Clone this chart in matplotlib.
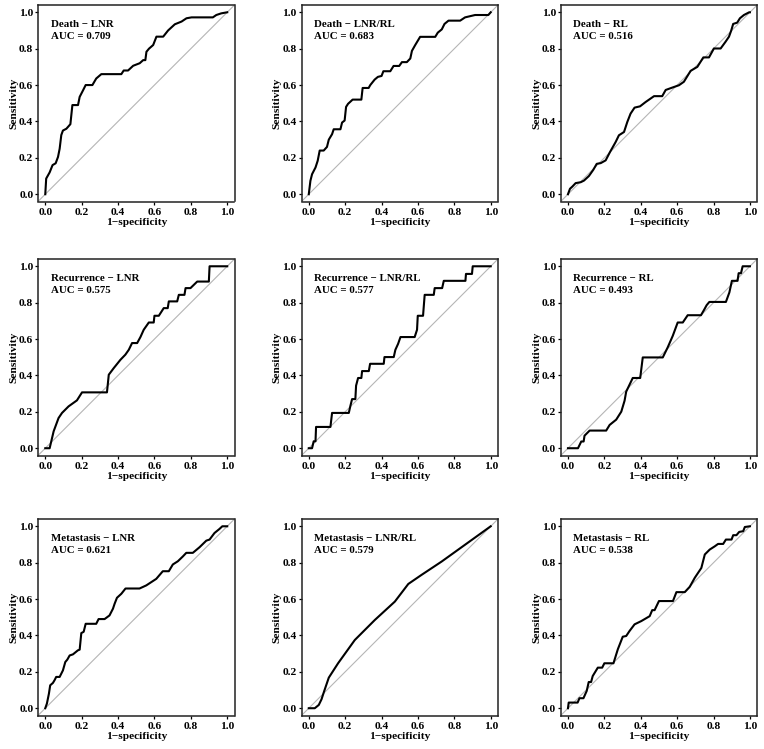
import matplotlib
matplotlib.use("Agg")
import matplotlib.pyplot as plt

plt.rcParams['font.family'] = ['Liberation Serif', 'DejaVu Serif']
plt.rcParams['font.weight'] = 'bold'

# ROC curve points (1-specificity, sensitivity)
death_lnr_fpr = [0, 0.005, 0.024, 0.04, 0.057, 0.07, 0.079, 0.088, 0.097, 0.116, 0.138, 0.149, 0.18, 0.189,
                 0.207, 0.222, 0.259, 0.28, 0.308, 0.418, 0.431, 0.455, 0.483, 0.519, 0.538, 0.55, 0.556, 0.57,
                 0.593, 0.611, 0.648, 0.675, 0.712, 0.749, 0.776, 0.804, 0.921, 0.94, 0.967, 1.0]
death_lnr_tpr = [0, 0.086, 0.12, 0.16, 0.17, 0.205, 0.25, 0.325, 0.35, 0.36, 0.385, 0.49, 0.49, 0.535,
                 0.57, 0.6, 0.6, 0.636, 0.66, 0.66, 0.68, 0.68, 0.706, 0.72, 0.737, 0.737, 0.783, 0.80,
                 0.82, 0.866, 0.866, 0.90, 0.934, 0.949, 0.967, 0.972, 0.972, 0.985, 0.994, 1.0]

death_ratio_fpr = [0, 0.009, 0.018, 0.037, 0.049, 0.06, 0.082, 0.1, 0.11, 0.128, 0.137, 0.174, 0.183, 0.197,
                   0.205, 0.216, 0.241, 0.289, 0.296, 0.329, 0.338, 0.362, 0.38, 0.40, 0.41, 0.448, 0.466,
                   0.497, 0.512, 0.539, 0.558, 0.567, 0.585, 0.612, 0.695, 0.709, 0.731, 0.746, 0.768,
                   0.832, 0.859, 0.914, 0.987, 1.0]
death_ratio_tpr = [0, 0.074, 0.11, 0.147, 0.184, 0.24, 0.24, 0.26, 0.30, 0.33, 0.357, 0.357, 0.394, 0.405,
                   0.48, 0.497, 0.52, 0.52, 0.584, 0.584, 0.60, 0.63, 0.645, 0.65, 0.676, 0.676, 0.705,
                   0.705, 0.726, 0.726, 0.746, 0.788, 0.82, 0.865, 0.865, 0.888, 0.906, 0.936, 0.954,
                   0.954, 0.972, 0.985, 0.985, 1.0]

death_rl_fpr = [0, 0.011, 0.024, 0.042, 0.07, 0.088, 0.115, 0.139, 0.158, 0.18, 0.207, 0.231, 0.262, 0.28,
                0.308, 0.326, 0.344, 0.366, 0.396, 0.427, 0.473, 0.518, 0.537, 0.573, 0.61, 0.637, 0.674,
                0.711, 0.744, 0.775, 0.802, 0.839, 0.866, 0.885, 0.897, 0.908, 0.93, 0.945, 0.967, 0.996, 1.0]
death_rl_tpr = [0, 0.03, 0.042, 0.061, 0.066, 0.075, 0.10, 0.134, 0.167, 0.171, 0.186, 0.232, 0.287, 0.324,
                0.342, 0.397, 0.443, 0.476, 0.483, 0.507, 0.539, 0.539, 0.573, 0.586, 0.599, 0.618, 0.678,
                0.70, 0.752, 0.752, 0.801, 0.801, 0.838, 0.866, 0.899, 0.936, 0.943, 0.967, 0.985, 1.0, 1.0]

rec_lnr_fpr = [0, 0.024, 0.046, 0.073, 0.092, 0.128, 0.174, 0.202, 0.339, 0.349, 0.376, 0.413, 0.44, 0.459,
               0.477, 0.505, 0.523, 0.541, 0.569, 0.596, 0.6, 0.624, 0.651, 0.673, 0.679, 0.725, 0.734,
               0.765, 0.771, 0.798, 0.835, 0.899, 0.903, 1.0]
rec_lnr_tpr = [0, 0, 0.093, 0.166, 0.194, 0.23, 0.263, 0.307, 0.307, 0.404, 0.44, 0.486, 0.514, 0.541,
               0.578, 0.578, 0.611, 0.651, 0.691, 0.691, 0.728, 0.728, 0.77, 0.77, 0.807, 0.807, 0.843,
               0.843, 0.88, 0.88, 0.916, 0.916, 1.0, 1.0]

rec_ratio_fpr = [0, 0.018, 0.027, 0.037, 0.04, 0.119, 0.128, 0.22, 0.229, 0.238, 0.256, 0.26, 0.271, 0.289,
                 0.293, 0.33, 0.337, 0.412, 0.416, 0.467, 0.476, 0.491, 0.504, 0.582, 0.595, 0.599, 0.628,
                 0.637, 0.687, 0.692, 0.733, 0.742, 0.861, 0.864, 0.897, 0.901, 1.0]
rec_ratio_tpr = [0, 0, 0.038, 0.038, 0.117, 0.117, 0.194, 0.194, 0.234, 0.27, 0.27, 0.344, 0.386, 0.386,
                 0.424, 0.424, 0.464, 0.464, 0.501, 0.501, 0.541, 0.574, 0.611, 0.611, 0.651, 0.728, 0.728,
                 0.843, 0.843, 0.88, 0.88, 0.92, 0.92, 0.958, 0.958, 1.0, 1.0]

rec_rl_fpr = [0, 0.055, 0.073, 0.086, 0.091, 0.119, 0.21, 0.229, 0.265, 0.293, 0.311, 0.32, 0.356, 0.397,
              0.411, 0.521, 0.548, 0.576, 0.603, 0.631, 0.658, 0.731, 0.75, 0.762, 0.777, 0.868, 0.887,
              0.901, 0.932, 0.938, 0.951, 0.96, 1.0]
rec_rl_tpr = [0, 0, 0.037, 0.037, 0.069, 0.097, 0.097, 0.128, 0.157, 0.201, 0.261, 0.311, 0.386, 0.386,
              0.499, 0.499, 0.554, 0.618, 0.691, 0.691, 0.731, 0.731, 0.764, 0.786, 0.804, 0.804, 0.856,
              0.92, 0.92, 0.962, 0.962, 1.0, 1.0]

met_lnr_fpr = [0, 0.009, 0.02, 0.027, 0.042, 0.051, 0.06, 0.079, 0.097, 0.11, 0.121, 0.134, 0.152, 0.179,
               0.189, 0.198, 0.211, 0.222, 0.28, 0.293, 0.326, 0.353, 0.372, 0.381, 0.394, 0.418, 0.441,
               0.518, 0.555, 0.61, 0.646, 0.679, 0.701, 0.729, 0.756, 0.775, 0.811, 0.848, 0.885, 0.903,
               0.93, 0.957, 0.973, 1.0]
met_lnr_tpr = [0, 0.026, 0.08, 0.126, 0.139, 0.154, 0.172, 0.172, 0.208, 0.254, 0.267, 0.29, 0.296, 0.318,
               0.322, 0.413, 0.42, 0.464, 0.464, 0.49, 0.49, 0.51, 0.547, 0.574, 0.607, 0.629, 0.658,
               0.658, 0.675, 0.711, 0.753, 0.753, 0.79, 0.808, 0.834, 0.854, 0.854, 0.885, 0.921, 0.927,
               0.963, 0.985, 1.0, 1.0]

met_ratio_fpr = [0, 0.033, 0.055, 0.07, 0.084, 0.11, 0.161, 0.253, 0.363, 0.473, 0.547, 0.62, 0.73, 0.84, 1.0]
met_ratio_tpr = [0, 0, 0.018, 0.049, 0.092, 0.168, 0.247, 0.375, 0.485, 0.586, 0.683, 0.733, 0.806, 0.885, 1.0]

met_rl_fpr = [0, 0.004, 0.053, 0.063, 0.085, 0.103, 0.114, 0.127, 0.136, 0.164, 0.188, 0.2, 0.25, 0.274,
              0.301, 0.32, 0.338, 0.366, 0.403, 0.449, 0.463, 0.476, 0.5, 0.577, 0.596, 0.642, 0.669,
              0.697, 0.715, 0.733, 0.752, 0.779, 0.807, 0.825, 0.853, 0.868, 0.899, 0.908, 0.926, 0.941,
              0.963, 0.972, 1.0]
met_rl_tpr = [0, 0.031, 0.031, 0.055, 0.055, 0.095, 0.144, 0.144, 0.177, 0.223, 0.223, 0.247, 0.247, 0.324,
              0.393, 0.397, 0.424, 0.461, 0.479, 0.506, 0.539, 0.539, 0.589, 0.589, 0.638, 0.638, 0.667,
              0.717, 0.744, 0.771, 0.845, 0.872, 0.89, 0.903, 0.903, 0.927, 0.927, 0.951, 0.951, 0.969,
              0.973, 0.996, 1.0]

titles = ["Death − LNR", "Death − LNR/RL", "Death − RL",
          "Recurrence − LNR", "Recurrence − LNR/RL", "Recurrence − RL",
          "Metastasis − LNR", "Metastasis − LNR/RL", "Metastasis − RL"]
auc_values = ["0.709", "0.683", "0.516", "0.575", "0.577", "0.493", "0.621", "0.579", "0.538"]
fpr_list = [death_lnr_fpr, death_ratio_fpr, death_rl_fpr, rec_lnr_fpr, rec_ratio_fpr, rec_rl_fpr,
            met_lnr_fpr, met_ratio_fpr, met_rl_fpr]
tpr_list = [death_lnr_tpr, death_ratio_tpr, death_rl_tpr, rec_lnr_tpr, rec_ratio_tpr, rec_rl_tpr,
            met_lnr_tpr, met_ratio_tpr, met_rl_tpr]
ticks = [0.0, 0.2, 0.4, 0.6, 0.8, 1.0]

W, H = 764, 749
fig = plt.figure(figsize=(W / 100, H / 100), dpi=100)

# pixel boxes of each panel (left, top), size ~196 px
col_left = [38, 301.5, 560.7]
row_top = [5, 259, 519]
size_w, size_h = 196.5, 196.5

for i in range(9):
    r, c = divmod(i, 3)
    left = col_left[c] / W
    bottom = (H - row_top[r] - size_h) / H
    ax = fig.add_axes([left, bottom, size_w / W, size_h / H])
    ax.axline((0, 0), (1, 1), color="#b5b5b5", lw=0.8, zorder=1)
    ax.plot(fpr_list[i], tpr_list[i], color="black", lw=1.5, zorder=2)
    ax.set_xlim(-0.04, 1.04)
    ax.set_ylim(-0.04, 1.04)
    ax.set_xticks(ticks)
    ax.set_yticks(ticks)
    ax.set_xticklabels(["%.1f" % t for t in ticks])
    ax.set_yticklabels(["%.1f" % t for t in ticks])
    ax.tick_params(length=2.4, width=0.9, pad=1.0, labelsize=8.2, colors="black")
    ax.tick_params(axis="x", pad=2.2)
    for sp in ax.spines.values():
        sp.set_linewidth(1.1)
        sp.set_color("#222222")
    ax.set_xlabel("1−specificity", fontsize=8.2, fontweight="bold", labelpad=0.8)
    ax.set_ylabel("Sensitivity", fontsize=8.2, fontweight="bold", labelpad=0.5)
    ax.text(0.03, 0.96, titles[i] + "\nAUC = " + auc_values[i], ha="left", va="top",
            fontsize=7.8, fontweight="bold", linespacing=1.45)

fig.savefig("out.png", dpi=100)
